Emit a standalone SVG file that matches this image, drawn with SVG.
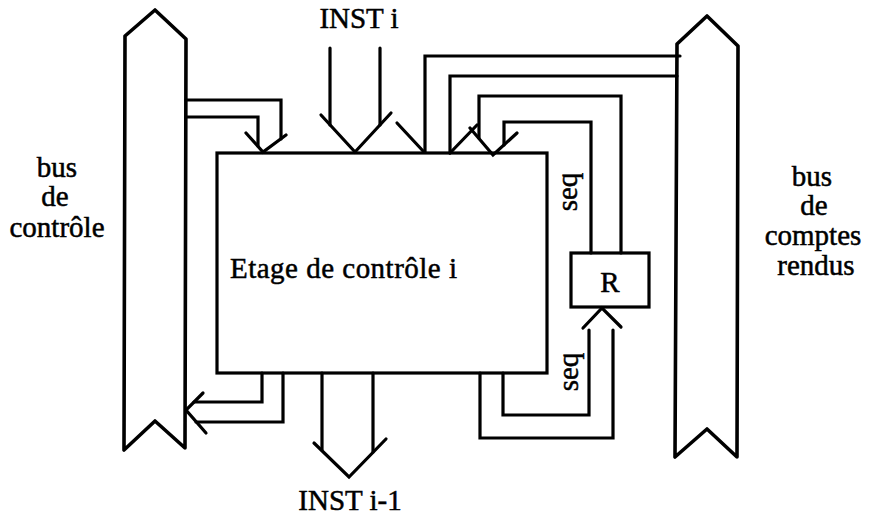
<svg xmlns="http://www.w3.org/2000/svg" width="870" height="518" viewBox="0 0 870 518">
<style>
.ln{fill:none;stroke:#000;stroke-width:3.2;stroke-linejoin:miter;stroke-linecap:round}
.bus{fill:#fff;stroke:#000;stroke-width:3.6;stroke-linejoin:round}
.box{fill:#fff;stroke:#000;stroke-width:3.2}
.t{font-family:"Liberation Serif","Times New Roman",serif;font-size:29px;fill:#000;stroke:#000;stroke-width:0.5}
.m{text-anchor:middle}
</style>
<rect width="870" height="518" fill="#fff"/>
<g id="bus-controle">
<polygon class="bus" points="125,36 155,10 186,39 185,448 155,421 124,450"/>
<text class="t m" x="57" y="177">bus</text>
<text class="t m" x="55" y="206">de</text>
<text class="t m" x="57" y="237">contrôle</text>
</g>
<g id="bus-comptes-rendus">
<polygon class="bus" points="677,44 707,16 738,46 737,457 707,429 675,457"/>
<text class="t m" x="812" y="186">bus</text>
<text class="t m" x="814" y="215">de</text>
<text class="t m" x="813" y="245">comptes</text>
<text class="t m" x="816" y="275">rendus</text>
</g>
<g id="etage">
<rect class="box" x="217" y="153" width="330" height="220"/>
<text class="t" x="230" y="278" textLength="227">Etage de contrôle i</text>
</g>
<g id="R">
<rect class="box" x="571" y="253" width="78" height="54"/>
<text class="t m" x="610" y="292">R</text>
</g>
<g id="connectors">
<path class="ln" d="M186 100 H281 V139"/>
<path class="ln" d="M186 117 H258 V146"/>
<path class="ln" d="M246 133 L263 152 L286 135"/>
<path class="ln" d="M330 48 V125"/>
<path class="ln" d="M380 48 V125"/>
<path class="ln" d="M321 115 L355 152 L391 113"/>
<path class="ln" d="M397 123 L424 152"/>
<path class="ln" d="M425 152 V56 H680"/>
<path class="ln" d="M450 153 V76 H677"/>
<path class="ln" d="M450 153 L477 125"/>
<path class="ln" d="M479 138 V96 H621 V253"/>
<path class="ln" d="M504 145 V122 H591 V253"/>
<path class="ln" d="M470 128 L493 155 L517 133"/>
<path class="ln" d="M503 373 V415 H589 V330"/>
<path class="ln" d="M480 373 V438 H613 V330"/>
<path class="ln" d="M583 328 L602 308 L621 327"/>
<path class="ln" d="M262 373 V402 H194"/>
<path class="ln" d="M283 373 V422 H196"/>
<path class="ln" d="M203 393 L186 410 L206 433"/>
<path class="ln" d="M322 373 V450"/>
<path class="ln" d="M373 373 V452"/>
<path class="ln" d="M314 443 L349 477 L386 439"/>
</g>
<g id="labels">
<text class="t m" x="359" y="28">INST i</text>
<text class="t m" x="350" y="510">INST i-1</text>
<text class="t m" transform="translate(577,192) rotate(-90)">seq</text>
<text class="t m" transform="translate(578,372) rotate(-90)">seq</text>
</g>
</svg>
